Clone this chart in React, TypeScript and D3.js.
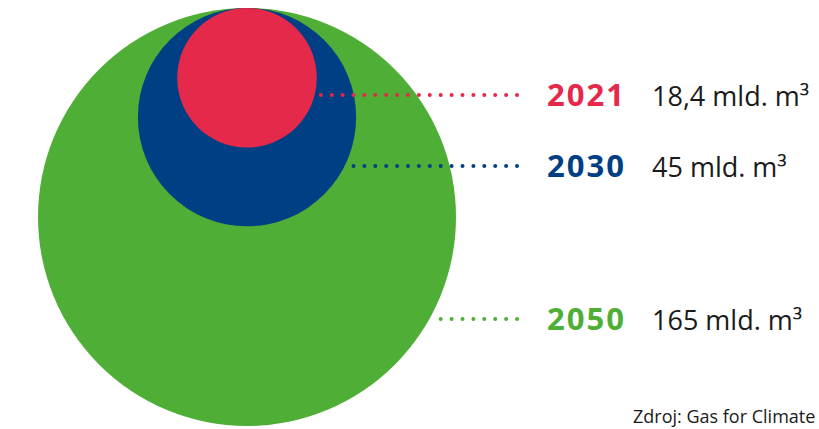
import React from "react";
import * as d3 from "d3";

const years = ["2021", "2030", "2050"];
const values = [18.4, 45, 165];
const valueLabels = ["18,4 mld. m³", "45 mld. m³", "165 mld. m³"];
const colors = ["#E4294A", "#003F84", "#4FAE35"];
const leaderY = [95, 166, 319];
const sourceText = "Zdroj: Gas for Climate";

const W = 819;
const H = 429;

export default function App() {
  const r = d3.scaleSqrt().domain([0, 165]).range([0, 209]);
  const cx = 247;
  const top = 8;
  const lineEnd = 517;
  const order = d3.range(values.length).sort((a, b) => values[b] - values[a]);

  return (
    <svg
      width={W}
      height={H}
      viewBox={`0 0 ${W} ${H}`}
      style={{ position: "absolute", left: 0, top: 0, background: "#fff" }}
    >
      {order.map((i) => (
        <circle key={"c" + i} cx={cx} cy={top + r(values[i])} r={r(values[i])} fill={colors[i]} />
      ))}
      {values.map((v, i) => {
        const rad = r(v);
        const cy = top + rad;
        const dy = leaderY[i] - cy;
        const x0 = cx + Math.sqrt(Math.max(0, rad * rad - dy * dy)) + 2;
        return (
          <g key={"l" + i}>
            <line
              x1={lineEnd}
              x2={x0}
              y1={leaderY[i]}
              y2={leaderY[i]}
              stroke={colors[i]}
              strokeWidth={4}
              strokeLinecap="round"
              strokeDasharray="0 10.9"
            />
            <text
              x={547}
              y={leaderY[i] + 10.5}
              fill={colors[i]}
              fontFamily="'Open Sans', sans-serif"
              fontWeight={700}
              fontSize={31}
              letterSpacing={2}
            >
              {years[i]}
            </text>
            <text
              x={652}
              y={leaderY[i] + 10.5}
              fill="#1a1a1a"
              fontFamily="'Open Sans', sans-serif"
              fontSize={27}
            >
              {valueLabels[i]}
            </text>
          </g>
        );
      })}
      <text x={633} y={423} fill="#1a1a1a" fontFamily="'Open Sans', sans-serif" fontSize={18}>
        {sourceText}
      </text>
    </svg>
  );
}
